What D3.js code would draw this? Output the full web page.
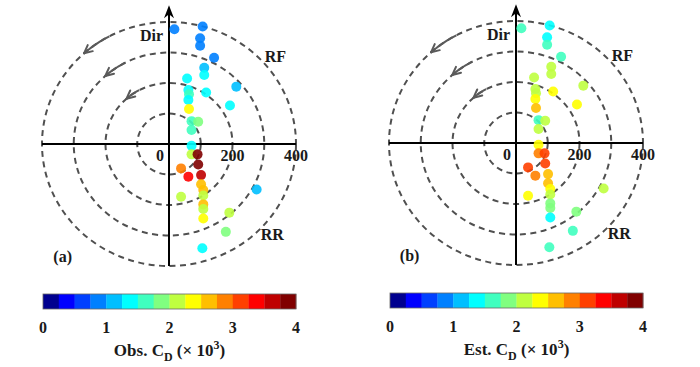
<!DOCTYPE html>
<html>
<head>
<meta charset="utf-8">
<script src="https://cdn.jsdelivr.net/npm/d3@7"></script>
<style>
  body { margin: 0; background: #fff; }
  text { font-family: "Liberation Serif", "Times New Roman", serif; font-weight: bold; fill: #1a1a1a; }
</style>
</head>
<body>
<svg id="chart"></svg>
<script>
// polar plot of drag coefficient, obs vs est

var width = 700, height = 367;

// point positions in plot units (east, north), -400..400
var ptX = [17, 106, 98, 98, 142, 111, 111, 57, 212, 117, 61, 63, 61, 192, 63, 71, 92, 71,
           71, 71, 90, 92, 38, 61, 101, 101, 108, 108, 38, 108, 108, 108, 190, 179, 276, 105];
var ptY = [376, 385, 347, 322, 283, 250, 226, 215, 188, 169, 177, 163, 144, 126, 115, 75, 73, 46,
           -6, -34, -34, -67, -80, -107, -102, -132, -151, -169, -173, -198, -213, -244, -225, -288, -149, -342];

// C_D x 10^3
var obsCD = [0.9, 0.9, 0.9, 0.9, 0.8, 1.1, 1.4, 1.4, 1.1, 1.4, 1.4, 1.6, 1.4, 1.4, 2.4, 1.6, 1.9, 1.6,
             1.4, 2.1, 3.9, 3.9, 2.9, 3.4, 3.6, 2.6, 2.6, 2.1, 2.1, 2.6, 2.1, 2.4, 2.1, 1.9, 1.1, 1.4];
var estCD = [1.6, 1.4, 1.4, 1.6, 1.6, 2.1, 2.1, 2.1, 2.1, 2.4, 2.1, 2.1, 2.4, 2.4, 2.6, 1.6, 2.1, 2.1,
             2.4, 2.9, 3.1, 3.1, 3.1, 2.9, 2.6, 2.6, 2.4, 2.1, 2.4, 1.9, 1.9, 1.4, 1.9, 1.6, 2.1, 1.6];

var rings = [100, 200, 300, 400];
var rLabels = [0, 200, 400];
var cbTicks = [0, 1, 2, 3, 4];
var arrowRings = [200, 300, 400];

var jet16 = ["#00008f", "#0000ff", "#0040ff", "#0080ff", "#00bfff", "#00ffff", "#40ffbf", "#80ff80",
             "#bfff40", "#ffff00", "#ffbf00", "#ff8000", "#ff4000", "#ff0000", "#bf0000", "#800000"];

var color = d3.scaleQuantize().domain([0, 4]).range(jet16);

var svg = d3.select("#chart").attr("width", width).attr("height", height);
svg.append("rect").attr("width", width).attr("height", height).attr("fill", "#fff");

function drawPanel(cx, cy, vals, tag) {
  var g = svg.append("g");
  var x = d3.scaleLinear().domain([-400, 400]).range([cx - 127, cx + 127]);
  var y = d3.scaleLinear().domain([-400, 400]).range([cy + 122, cy - 122]);

  // dashed rings
  g.selectAll(".ring").data(rings).enter().append("ellipse")
      .attr("cx", x(0)).attr("cy", y(0))
      .attr("rx", function(d) { return x(d) - x(0); })
      .attr("ry", function(d) { return y(0) - y(d); })
      .attr("fill", "none")
      .attr("stroke", "#505050")
      .attr("stroke-width", 2)
      .attr("stroke-dasharray", "6,4.5");

  // rotation arrows
  var arc = d3.line().x(function(d) { return x(d[0]); }).y(function(d) { return y(d[1]); });
  arrowRings.forEach(function(r) {
    var pts = d3.range(28, 42.5, 1).map(function(a) {
      var t = a * Math.PI / 180;
      return [-r * Math.sin(t), r * Math.cos(t)];
    });
    g.append("path").attr("d", arc(pts))
        .attr("fill", "none").attr("stroke", "#5a5a5a").attr("stroke-width", 2);
    var p1 = pts[pts.length - 1], p0 = pts[pts.length - 3];
    var ex = x(p1[0]), ey = y(p1[1]);
    var ang = Math.atan2(ey - y(p0[1]), ex - x(p0[0]));
    [-0.45, 0.45].forEach(function(s) {
      g.append("line")
          .attr("x1", ex).attr("y1", ey)
          .attr("x2", ex - 9 * Math.cos(ang + s)).attr("y2", ey - 9 * Math.sin(ang + s))
          .attr("stroke", "#5a5a5a").attr("stroke-width", 2).attr("stroke-linecap", "round");
    });
  });

  // axes
  g.append("line").attr("x1", x(-400)).attr("x2", x(400)).attr("y1", y(0)).attr("y2", y(0))
      .attr("stroke", "#000").attr("stroke-width", 2);
  g.append("line").attr("x1", x(0)).attr("x2", x(0)).attr("y1", y(-400)).attr("y2", y(440))
      .attr("stroke", "#000").attr("stroke-width", 2);
  var tx = x(0), ty = y(455);
  g.append("path")
      .attr("d", "M" + tx + "," + ty + "L" + (tx - 5) + "," + (ty + 13) + "L" + tx + "," + (ty + 9) +
                 "L" + (tx + 5) + "," + (ty + 13) + "Z")
      .attr("fill", "#000");

  // points
  var idx = d3.range(ptX.length);
  g.selectAll(".pt").data(idx).enter().append("circle")
      .attr("cx", function(i) { return x(ptX[i]); })
      .attr("cy", function(i) { return y(ptY[i]); })
      .attr("r", 5)
      .attr("fill", function(i) { return color(vals[i]); })
      .attr("fill-opacity", 0.9);

  // labels
  g.selectAll(".rl").data(rLabels).enter().append("text")
      .attr("x", function(d) { return d === 0 ? x(0) - 9 : x(d); })
      .attr("y", y(0) + 17)
      .attr("text-anchor", "middle")
      .style("font-size", "16px")
      .text(function(d) { return d; });
  g.append("text").attr("x", x(-55)).attr("y", y(338)).attr("text-anchor", "middle")
      .style("font-size", "16px").text("Dir");
  g.append("text").attr("x", x(335)).attr("y", y(268)).attr("text-anchor", "middle")
      .style("font-size", "16px").text("RF");
  g.append("text").attr("x", x(325)).attr("y", y(-314)).attr("text-anchor", "middle")
      .style("font-size", "16px").text("RR");
  g.append("text").attr("x", x(-335)).attr("y", y(-388)).attr("text-anchor", "middle")
      .style("font-size", "16px").text(tag);
}

function drawColorbar(x0, x1, top, name) {
  var g = svg.append("g");
  var cx = d3.scaleLinear().domain([0, 4]).range([x0, x1]);
  var steps = d3.range(16).map(function(i) { return i * 0.25; });
  g.selectAll("rect").data(steps).enter().append("rect")
      .attr("x", function(d) { return cx(d); })
      .attr("y", top)
      .attr("width", cx(0.25) - cx(0) + 0.3)
      .attr("height", 15)
      .attr("fill", function(d) { return color(d + 0.1); });
  g.append("rect").attr("x", x0).attr("y", top).attr("width", x1 - x0).attr("height", 15)
      .attr("fill", "none").attr("stroke", "#666").attr("stroke-width", 0.8);
  g.selectAll(".tk").data(cbTicks).enter().append("text")
      .attr("x", function(d) { return cx(d); })
      .attr("y", top + 39)
      .attr("text-anchor", "middle")
      .style("font-size", "16px")
      .text(function(d) { return d; });
  var t = g.append("text").attr("x", (x0 + x1) / 2).attr("y", top + 62)
      .attr("text-anchor", "middle").style("font-size", "17px");
  t.append("tspan").text(name + " C");
  t.append("tspan").attr("dy", 5).style("font-size", "12px").text("D");
  t.append("tspan").attr("dy", -5).text(" (\u00d7 10");
  t.append("tspan").attr("dy", -7).style("font-size", "12px").text("3");
  t.append("tspan").attr("dy", 7).text(")");
}

drawPanel(169, 144, obsCD, "(a)");
drawPanel(516, 143, estCD, "(b)");
drawColorbar(43, 296, 294, "Obs.");
drawColorbar(390, 643, 293, "Est.");
</script>
</body>
</html>
